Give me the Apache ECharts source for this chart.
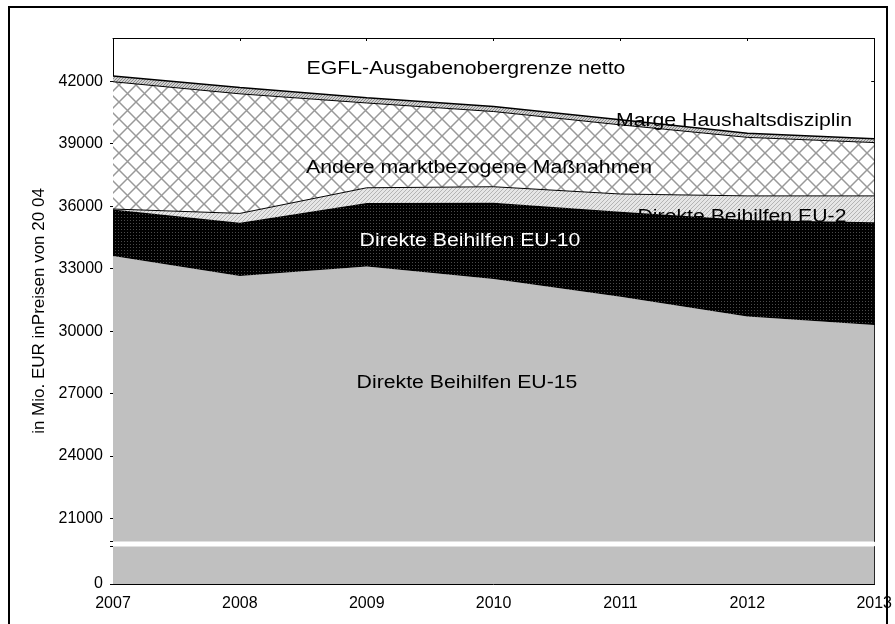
<!DOCTYPE html>
<html>
<head>
<meta charset="utf-8">
<script src="https://cdn.jsdelivr.net/npm/echarts@6.0.0/dist/echarts.min.js"></script>
<style>
  html, body { margin: 0; padding: 0; background: #fff; }
  #main { width: 895px; height: 624px; }
</style>
</head>
<body>
<div id="main"></div>
<script>
// Werte in Mio. EUR (Preise 2004)
var years = ['2007', '2008', '2009', '2010', '2011', '2012', '2013'];
var eu15 = [33600, 32640, 33100, 32500, 31650, 30700, 30290];
var eu10 = [2240, 2560, 3050, 3660, 4080, 4630, 4930];
var eu2 = [20, 450, 730, 770, 850, 1160, 1270];
var andere = [6110, 5740, 4070, 3610, 3320, 2810, 2560];
var marge = [280, 300, 250, 240, 250, 200, 180];
var yTicks = [0, 21000, 24000, 27000, 30000, 33000, 36000, 39000, 42000];
var breakFrom = 1800, breakTo = 19900;

var font = "'Liberation Sans', Arial, sans-serif";

// kleine Kacheln fuer die Schraffuren
function tile(size, draw) {
    var c = document.createElement('canvas');
    c.width = size;
    c.height = size;
    draw(c.getContext('2d'), size);
    return { image: c, repeat: 'repeat' };
}

var crossHatch = tile(17, function (ctx, s) {
    ctx.fillStyle = '#fff';
    ctx.fillRect(0, 0, s, s);
    ctx.strokeStyle = '#999';
    ctx.lineWidth = 1.5;
    for (var k = -1; k <= 1; k++) {
        ctx.beginPath();
        ctx.moveTo(k * s, 0); ctx.lineTo(k * s + s, s);
        ctx.moveTo(k * s + s, 0); ctx.lineTo(k * s, s);
        ctx.stroke();
    }
});

var lightHatch = tile(4, function (ctx, s) {
    ctx.fillStyle = '#e6e6e6';
    ctx.fillRect(0, 0, s, s);
    ctx.fillStyle = '#b4b4b4';
    for (var i = 0; i < s; i++) ctx.fillRect(i, s - 1 - i, 1, 1);
});

var margeHatch = tile(3, function (ctx, s) {
    ctx.fillStyle = '#d0d0d0';
    ctx.fillRect(0, 0, s, s);
    ctx.fillStyle = '#8a8a8a';
    for (var i = 0; i < s; i++) ctx.fillRect(i, s - 1 - i, 1, 1);
});

var darkDots = tile(3, function (ctx, s) {
    ctx.fillStyle = '#000';
    ctx.fillRect(0, 0, s, s);
    ctx.fillStyle = '#4a4a4a';
    ctx.fillRect(1, 1, 1, 1);
});

function yAx(pos, main) {
    return {
        type: 'value',
        position: pos,
        min: 0,
        max: 44070,
        interval: 3000,
        breaks: [{ start: breakFrom, end: breakTo, gap: 240 }],
        breakArea: {
            show: main,
            zigzagAmplitude: 0,
            itemStyle: { color: '#fff', borderWidth: 0, opacity: 1 }
        },
        name: main ? 'in Mio. EUR inPreisen von 20 04' : '',
        nameLocation: 'middle',
        nameGap: 64,
        nameTextStyle: { fontFamily: font, fontSize: 17, color: '#000' },
        axisLine: { show: true, lineStyle: { color: '#000', width: 1 } },
        axisTick: {
            show: true, inside: !main, length: 3,
            customValues: yTicks.concat([breakFrom, breakTo]),
            lineStyle: { color: '#000' }
        },
        axisLabel: {
            show: main,
            margin: 10,
            color: '#000',
            fontFamily: font,
            fontSize: 16,
            customValues: yTicks,
            formatter: function (v) { return String(v); }
        },
        splitLine: { show: false }
    };
}

function xAx(pos, main) {
    return {
        type: 'category',
        position: pos,
        data: years,
        boundaryGap: false,
        axisLine: { show: true, onZero: false, lineStyle: { color: '#000', width: 1 } },
        axisTick: { show: true, inside: true, length: 3, lineStyle: { color: '#000' } },
        axisLabel: { show: main, margin: 12, color: '#000', fontFamily: font, fontSize: 16 },
        splitLine: { show: false }
    };
}

function layer(name, data, fill, lineW, z) {
    return {
        name: name,
        type: 'line',
        stack: 'gesamt',
        data: data,
        symbol: 'none',
        z: z,
        silent: true,
        lineStyle: { width: lineW, color: '#000' },
        areaStyle: { color: fill, opacity: 1 }
    };
}

// Beschriftung im Diagramm, etwas breiter laufend als normales Arial
function txt(x, y, s, color, z) {
    return {
        type: 'text', x: x, y: y, z: z, scaleX: 1.18,
        style: { text: s, fill: color, font: '18px ' + font, textAlign: 'center', textVerticalAlign: 'middle' }
    };
}

var chart = echarts.init(document.getElementById('main'));
chart.setOption({
    animation: false,
    backgroundColor: '#fff',
    grid: { left: 113, right: 18, top: 38, bottom: 40, containLabel: false },
    xAxis: [xAx('bottom', true), xAx('top', false)],
    yAxis: [yAx('left', true), yAx('right', false)],
    series: [
        layer('Direkte Beihilfen EU-15', eu15, '#c0c0c0', 0, 2),
        layer('Direkte Beihilfen EU-10', eu10, darkDots, 0, 6),
        layer('Direkte Beihilfen EU-2', eu2, lightHatch, 1, 2),
        layer('Andere marktbezogene Maßnahmen', andere, crossHatch, 1, 2),
        layer('Marge Haushaltsdisziplin', marge, margeHatch, 1.5, 2)
    ],
    graphic: [
        { type: 'rect', shape: { x: 9, y: 7, width: 878, height: 700 }, style: { fill: null, stroke: '#000', lineWidth: 2 }, z: 20 },
        txt(466, 69, 'EGFL-Ausgabenobergrenze netto', '#000', 20),
        txt(734, 121, 'Marge Haushaltsdisziplin', '#000', 20),
        txt(479, 168, 'Andere marktbezogene Maßnahmen', '#000', 20),
        txt(742, 217, 'Direkte Beihilfen EU-2', '#000', 4),
        txt(470, 241, 'Direkte Beihilfen EU-10', '#fff', 20),
        txt(467, 383, 'Direkte Beihilfen EU-15', '#000', 20)
    ]
});
</script>
</body>
</html>
